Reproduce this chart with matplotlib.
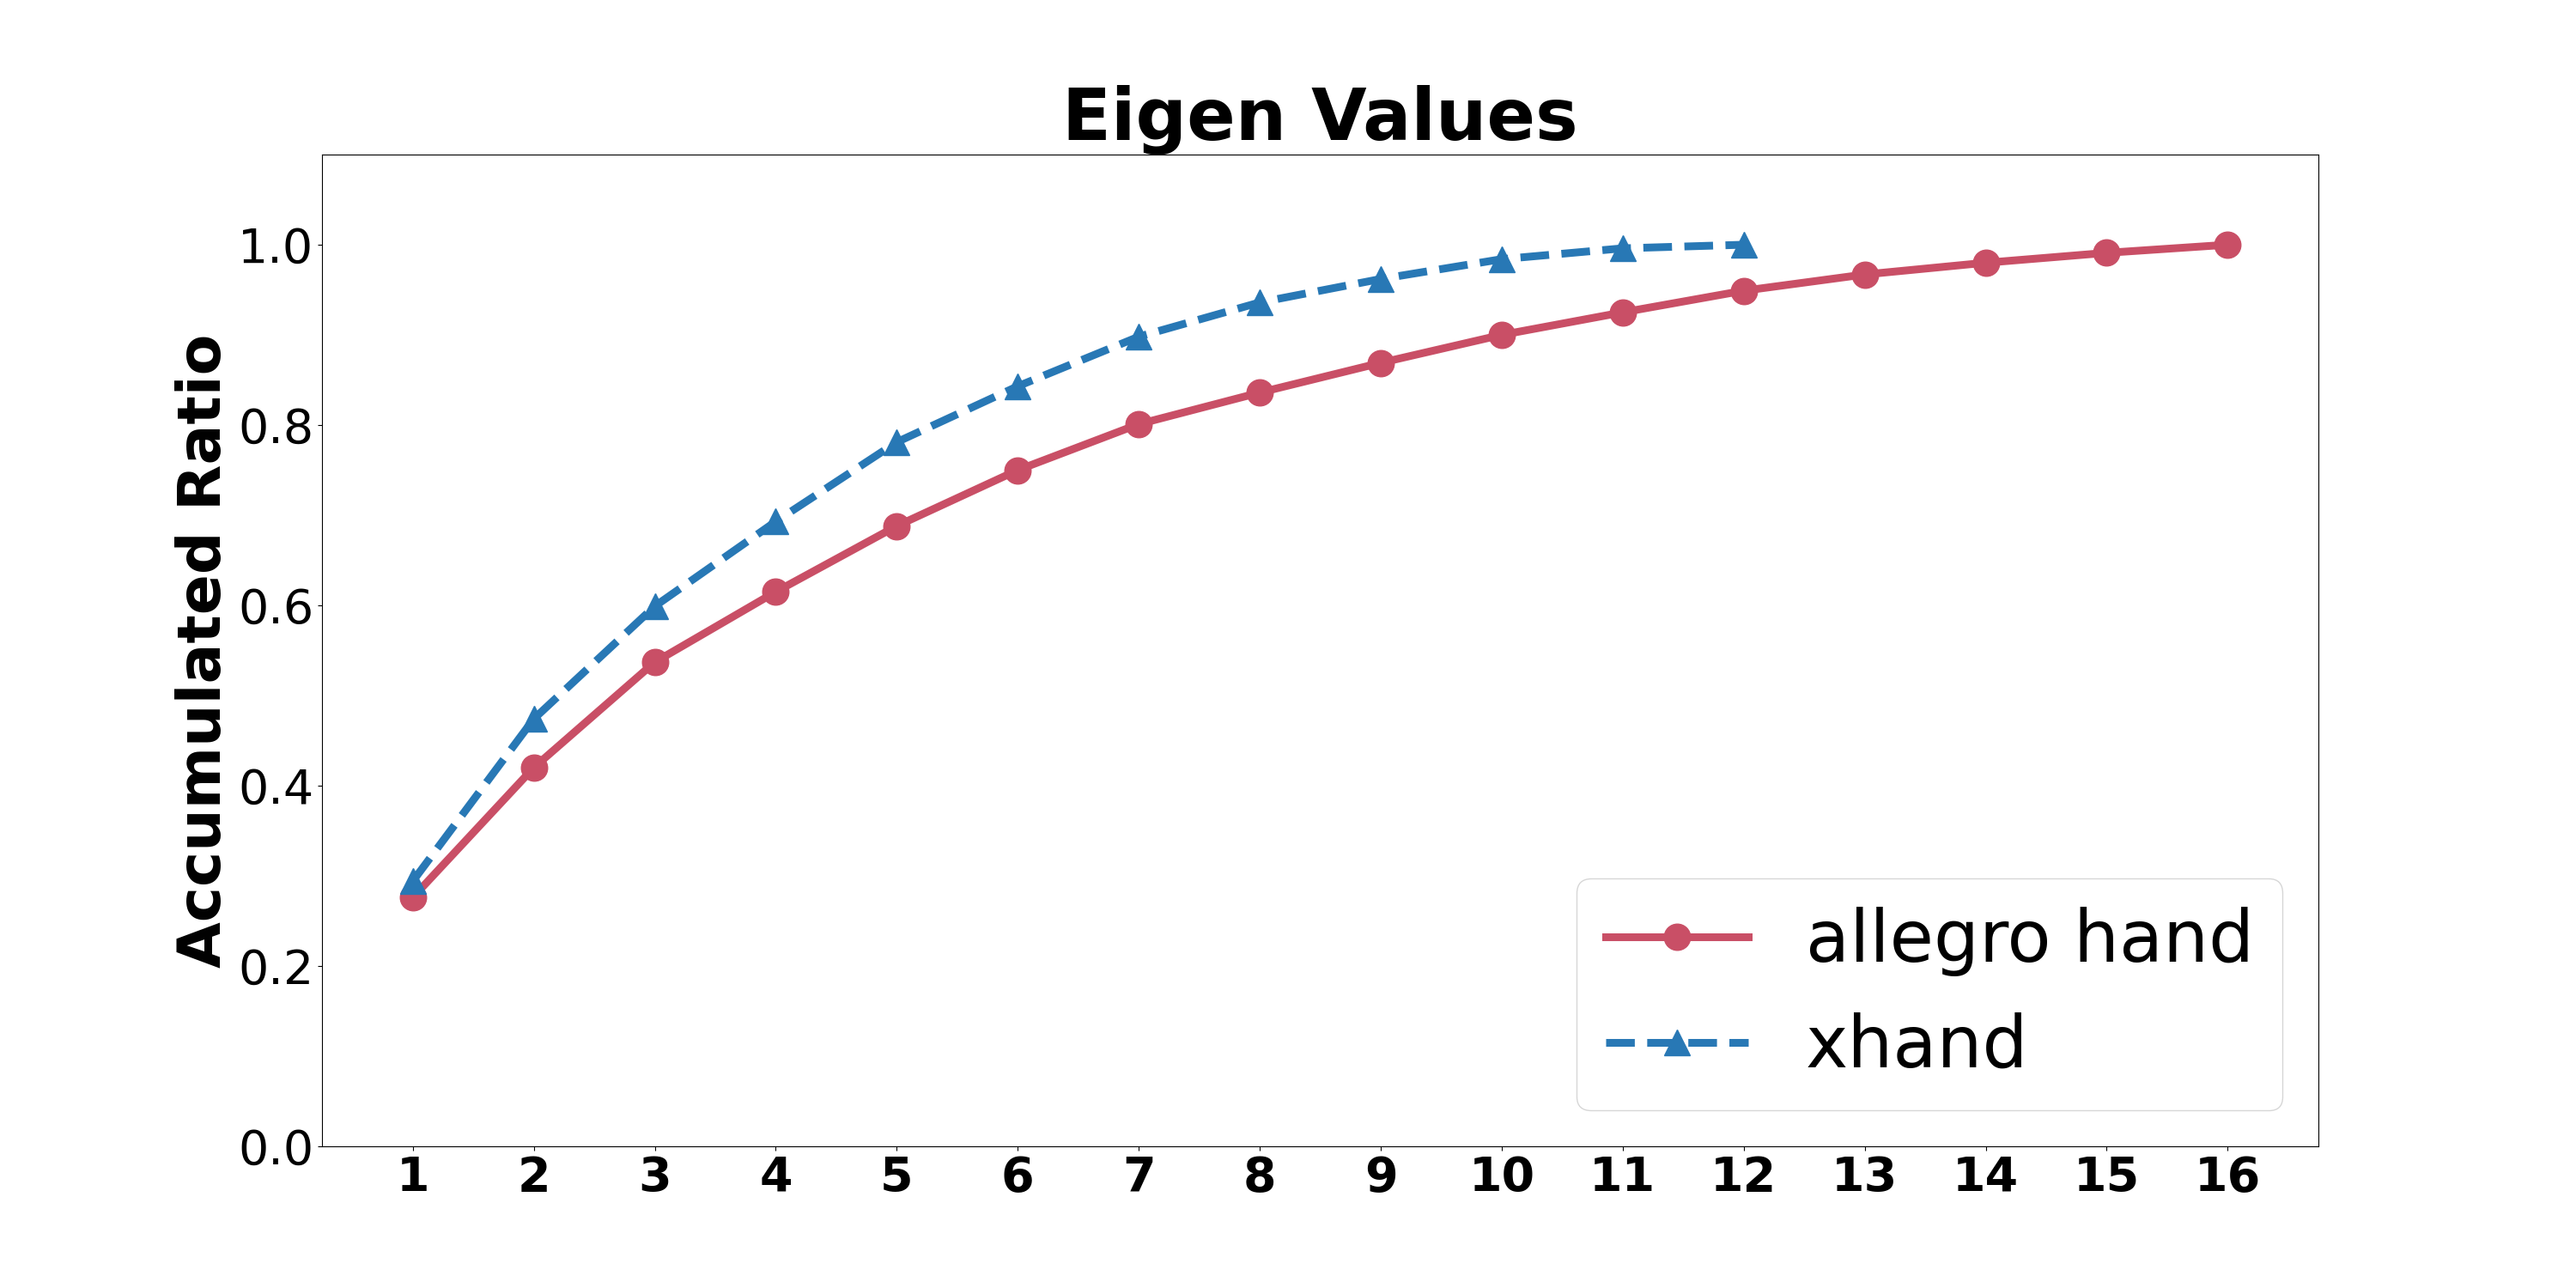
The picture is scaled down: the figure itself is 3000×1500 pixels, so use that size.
import matplotlib
matplotlib.use("Agg")
import matplotlib.pyplot as plt

# accumulated eigenvalue ratio per number of components
allegro_x = list(range(1, 17))
allegro_y = [0.276, 0.420, 0.537, 0.615, 0.688, 0.750, 0.801, 0.836,
             0.869, 0.900, 0.925, 0.949, 0.967, 0.980, 0.991, 1.000]
xhand_x = list(range(1, 13))
xhand_y = [0.294, 0.474, 0.599, 0.693, 0.781, 0.843, 0.898, 0.936,
           0.962, 0.984, 0.996, 1.000]

fig = plt.figure(figsize=(30, 15), dpi=100)
ax = fig.add_subplot(111)

ax.plot(allegro_x, allegro_y, color="#C94F66", linestyle="-", marker="o",
        linewidth=6.5, markersize=22, label="allegro hand")
ax.plot(xhand_x, xhand_y, color="#2878B5", linestyle="--", marker="^",
        linewidth=6.5, markersize=22, label="xhand")

ax.set_title("Eigen Values", fontsize=60, fontweight="bold")
ax.set_ylabel("Accumulated Ratio", fontsize=50, fontweight="bold")
ax.set_ylim(0, 1.1)
ax.set_xticks(allegro_x)
ax.tick_params(axis="x", labelsize=40)
ax.tick_params(axis="y", labelsize=40)
for lbl in ax.get_xticklabels():
    lbl.set_fontweight("bold")

ax.legend(loc="lower right", fontsize=60)

fig.savefig("out.png", dpi=100)
